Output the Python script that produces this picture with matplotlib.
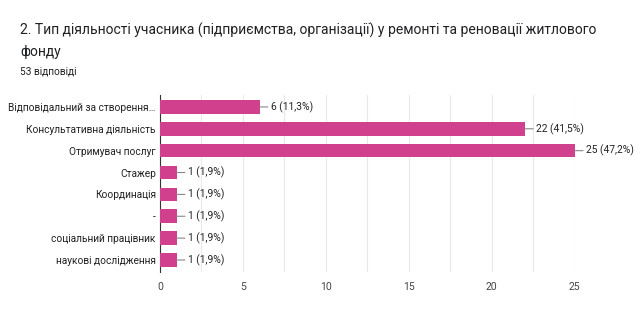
import matplotlib.pyplot as plt

plt.rcParams['font.family'] = ['Roboto', 'DejaVu Sans']

categories = ["Відповідальний за створення…", "Консультативна діяльність", "Отримувач послуг",
              "Стажер", "Координація", "-", "соціальний працівник", "наукові дослідження"]
counts = [6, 22, 25, 1, 1, 1, 1, 1]
percents = ["11,3%", "41,5%", "47,2%", "1,9%", "1,9%", "1,9%", "1,9%", "1,9%"]
xticks = [0, 5, 10, 15, 20, 25]

fig = plt.figure(figsize=(6.4, 3.25), dpi=100)
ax = fig.add_axes([0.25, 0.163, 0.648, 0.545])

y = list(range(len(categories)))
ax.barh(y, counts, height=0.62, color='#d1408c', zorder=3)
ax.set_ylim(len(categories) - 0.45, -0.55)
ax.set_xlim(0, 25)

for i, (c, p) in enumerate(zip(counts, percents)):
    ax.annotate(f"{c} ({p})", xy=(c, i), xytext=(8, 0), textcoords='offset points',
                va='center', ha='left', fontsize=7.4, color='#222222',
                arrowprops=dict(arrowstyle='-', color='#888888', lw=0.8, shrinkA=0, shrinkB=0),
                annotation_clip=False)

ax.set_yticks(y)
ax.set_yticklabels(categories, fontsize=7.3, color='#222222')
ax.set_xticks(xticks)
ax.set_xticklabels([str(t) for t in xticks], fontsize=7.5, color='#444444')
ax.set_xticks([2.5, 7.5, 12.5, 17.5, 22.5], minor=True)
ax.tick_params(axis='both', length=0, which='both')
ax.tick_params(axis='x', pad=7)
ax.tick_params(axis='y', pad=3)
ax.grid(axis='x', which='both', color='#e8e8e8', lw=0.8, zorder=0)
for s in ['top', 'right', 'bottom']:
    ax.spines[s].set_visible(False)
ax.spines['left'].set_color('#333333')
ax.spines['left'].set_linewidth(0.8)

fig.text(20 / 640, 1 - 30 / 325, "2. Тип діяльності учасника (підприємства, організації) у ремонті та реновації житлового",
         fontsize=10, color='#202124', va='center', ha='left')
fig.text(20 / 640, 1 - 52 / 325, "фонду", fontsize=10, color='#202124', va='center', ha='left')
fig.text(20 / 640, 1 - 71 / 325, "53 відповіді", fontsize=7.3, color='#202124', va='center', ha='left')

fig.savefig('out.png', dpi=100, facecolor='white')
